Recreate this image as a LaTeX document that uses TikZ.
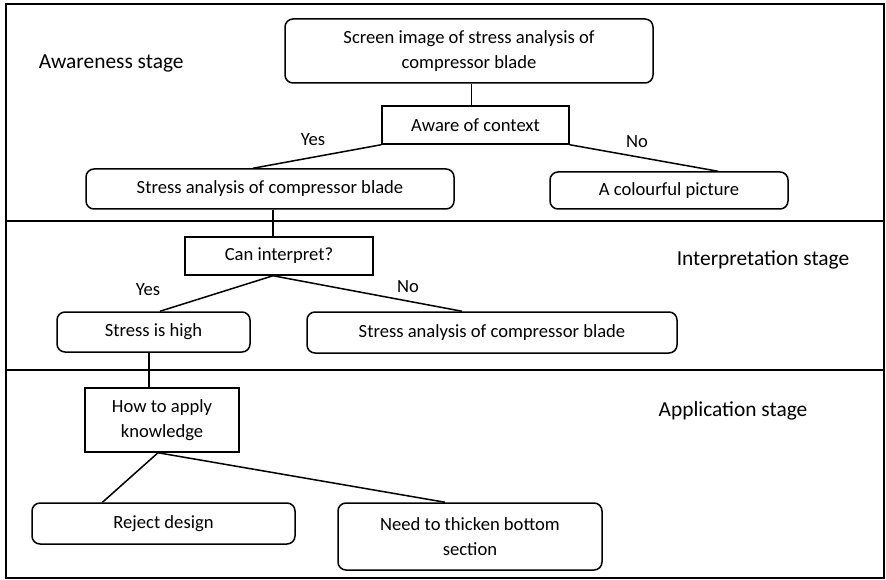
\documentclass[tikz,border=0pt]{standalone}
\usepackage{fontspec}
\setmainfont{Carlito}
\begin{document}
\begin{tikzpicture}[x=1pt,y=-1pt,
  line width=1.5pt,
  every node/.style={font=\fontsize{18.6}{25}\selectfont, inner sep=0pt},
  roundbox/.style={draw, rounded corners=8pt, align=center},
  squarebox/.style={draw, align=center},
  stagelabel/.style={font=\fontsize{21.4}{25}\selectfont},
  link/.style={draw, line width=1.5pt}]
  % page extent and outer frame
  \useasboundingbox (0,0) rectangle (886,580);
  \draw (6,4) rectangle (884,578);
  % stage separators
  \draw (6,221) -- (884,221);
  \draw (6,370) -- (884,370);

  % stage labels
  \node[stagelabel, anchor=west] (lab1) at (38,63) {Awareness stage};
  \node[stagelabel] (lab2) at (763,260) {Interpretation stage};
  \node[stagelabel] (lab3) at (733,411) {Application stage};

  % awareness stage
  \node[roundbox, minimum width=368pt, minimum height=64pt] (screen) at (469,51)
    {Screen image of stress analysis of\\compressor blade};
  \node[squarebox, minimum width=187pt, minimum height=38pt] (aware) at (475.5,125) {Aware of context};
  \node[roundbox, minimum width=368pt, minimum height=40pt] (stressA) at (270,189)
    {Stress analysis of compressor blade};
  \node[roundbox, minimum width=238pt, minimum height=37pt] (colour) at (669,190.5)
    {A colourful picture};

  \draw[link] ([xshift=-4pt]aware.north) -- ([xshift=-4pt]aware.north |- screen.south);
  \draw[link] (aware.south west) -- ([xshift=-17pt]stressA.north);
  \draw[link] (aware.south east) -- ([xshift=49pt]colour.north);
  \node (yes1) at (313,140) {Yes};
  \node (no1) at (637,142) {No};

  % interpretation stage
  \node[squarebox, minimum width=188pt, minimum height=38pt] (interp) at (279,256) {Can interpret?};
  \node[roundbox, minimum width=193pt, minimum height=40pt] (high) at (153.5,332) {Stress is high};
  \node[roundbox, minimum width=370pt, minimum height=41pt] (stressB) at (492,332.5)
    {Stress analysis of compressor blade};

  \draw[link] ([xshift=3pt]stressA.south) -- ([xshift=3pt]stressA.south |- interp.north);
  \draw[link] ([xshift=-6pt]interp.south) -- ([xshift=6.5pt]high.north);
  \draw[link] ([xshift=-6pt]interp.south) -- ([xshift=-30pt]stressB.north);
  \node (yes2) at (148,290) {Yes};
  \node (no2) at (408,287) {No};

  % application stage
  \node[squarebox, minimum width=154pt, minimum height=64pt] (howto) at (162,420)
    {How to apply\\knowledge};
  \node[roundbox, minimum width=263pt, minimum height=41pt] (reject) at (163.5,523.5) {Reject design};
  \node[roundbox, minimum width=264pt, minimum height=67pt] (thicken) at (470,536.5)
    {Need to thicken bottom\\section};

  \draw[link] ([xshift=-4.5pt]high.south) -- ([xshift=-4.5pt]high.south |- howto.north);
  \draw[link] ([xshift=-4pt]howto.south) -- ([xshift=-61pt]reject.north);
  \draw[link] ([xshift=-4pt]howto.south) -- ([xshift=-25pt]thicken.north);
\end{tikzpicture}
\end{document}
